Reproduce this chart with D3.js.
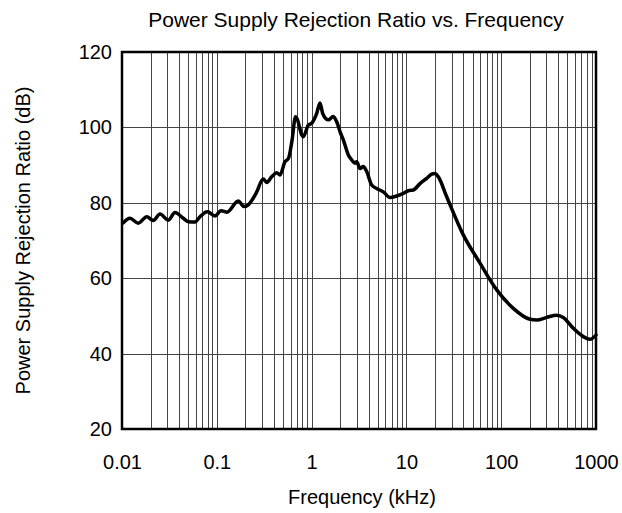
<!DOCTYPE html>
<html>
<head>
<meta charset="utf-8">
<script src="https://cdn.jsdelivr.net/npm/d3@7"></script>
<style>
  html, body { margin: 0; padding: 0; background: #fff; }
  text { font-family: Arial, "Liberation Sans", sans-serif; fill: #000; }
</style>
</head>
<body>
<svg id="chart" width="622" height="513"></svg>
<script>
const chartTitle = "Power Supply Rejection Ratio vs. Frequency";
const xLabel = "Frequency (kHz)";
const yLabel = "Power Supply Rejection Ratio (dB)";
const xTicks = [0.01, 0.1, 1, 10, 100, 1000];
const xTickLabels = ["0.01", "0.1", "1", "10", "100", "1000"];
const yTicks = [20, 40, 60, 80, 100, 120];

const freq = [0.01032, 0.01214, 0.01486, 0.01822, 0.02138, 0.02518, 0.03079, 0.03622, 0.04432, 0.05007,
  0.05888, 0.06649, 0.07977, 0.09572, 0.1107, 0.1281, 0.1685, 0.1936, 0.2133, 0.2592,
  0.3094, 0.3360, 0.3794, 0.4283, 0.4642, 0.5240, 0.5706, 0.6212, 0.6763, 0.7100,
  0.7863, 0.8172, 0.9231, 1.0025, 1.132, 1.226, 1.309, 1.501, 1.694, 1.840,
  1.993, 2.160, 2.439, 2.649, 2.870, 2.991, 3.239, 3.511, 3.813, 4.305,
  4.861, 5.705, 6.714, 7.903, 9.275, 10.47, 11.83, 13.92, 16.37, 18.49,
  20.03, 21.71, 26.61, 39.83, 59.75, 89.66, 134.2, 201.3, 236.8, 302,
  384.9, 451.9, 576.3, 734.5, 864.5, 1000];
const psrr = [74.7, 75.9, 74.6, 76.3, 75.3, 77.0, 75.4, 77.4, 75.9, 75.0,
  74.9, 76.3, 77.6, 76.5, 77.9, 77.5, 80.5, 79.0, 79.4, 82.5,
  86.3, 85.4, 86.9, 88.0, 87.4, 90.9, 91.8, 96.5, 102.8, 102.0,
  98.0, 97.5, 100.6, 101.1, 103.7, 106.5, 103.7, 102.0, 102.9, 101.5,
  98.9, 96.7, 92.7, 91.4, 90.5, 90.9, 89.1, 89.6, 88.3, 84.7,
  83.8, 82.9, 81.4, 81.8, 82.5, 83.2, 83.4, 85.1, 86.5, 87.6,
  87.8, 86.9, 81.6, 71.5, 64.0, 56.9, 52.0, 49.1, 48.9, 49.6,
  50.2, 49.6, 46.7, 44.5, 43.8, 44.9];

const svg = d3.select("#chart");
const m = { left: 122, right: 596, top: 52, bottom: 429 };

const x = d3.scaleLog().domain([0.01, 1000]).range([m.left, m.right]);
const y = d3.scaleLinear().domain([20, 120]).range([m.bottom, m.top]);

// minor + major vertical grid lines
const vLines = [];
for (let e = -2; e < 3; e++) {
  for (let k = 1; k <= 9; k++) vLines.push(k * Math.pow(10, e));
}
vLines.push(1000);

const grid = svg.append("g");
grid.selectAll("line.v").data(vLines).join("line")
  .attr("class", "v")
  .attr("x1", d => Math.round(x(d)) + 0.5).attr("x2", d => Math.round(x(d)) + 0.5)
  .attr("y1", m.top).attr("y2", m.bottom)
  .attr("stroke", "#444").attr("stroke-width", 1);
grid.selectAll("line.h").data(yTicks).join("line")
  .attr("class", "h")
  .attr("x1", m.left).attr("x2", m.right)
  .attr("y1", d => Math.round(y(d)) + 0.5).attr("y2", d => Math.round(y(d)) + 0.5)
  .attr("stroke", "#444").attr("stroke-width", 1);

// data line
const data = freq.map((f, i) => ({ f, v: psrr[i] }));
svg.append("path")
  .datum(data)
  .attr("fill", "none")
  .attr("stroke", "#000")
  .attr("stroke-width", 3.5)
  .attr("stroke-linejoin", "round")
  .attr("stroke-linecap", "round")
  .attr("d", d3.line().x(d => x(d.f)).y(d => y(d.v)).curve(d3.curveMonotoneX));

// frame
svg.append("rect")
  .attr("x", m.left).attr("y", m.top)
  .attr("width", m.right - m.left).attr("height", m.bottom - m.top)
  .attr("fill", "none").attr("stroke", "#000").attr("stroke-width", 2.5);

// axes labels via d3 axes (no domain / tick lines)
const xAxis = d3.axisBottom(x).tickValues(xTicks)
  .tickFormat((d, i) => xTickLabels[i]).tickSize(0).tickPadding(0);
const gx = svg.append("g").attr("transform", `translate(0,${m.bottom + 26})`).call(xAxis);
gx.select(".domain").remove();
gx.selectAll("text").attr("font-size", 20).attr("font-family", "Arial, 'Liberation Sans', sans-serif").attr("fill", "#000");

const yAxis = d3.axisLeft(y).tickValues(yTicks).tickSize(0).tickPadding(0);
const gy = svg.append("g").attr("transform", `translate(${m.left - 10},0)`).call(yAxis);
gy.select(".domain").remove();
gy.selectAll("text").attr("font-size", 20).attr("font-family", "Arial, 'Liberation Sans', sans-serif").attr("fill", "#000");

svg.append("text")
  .attr("x", 356).attr("y", 27)
  .attr("text-anchor", "middle")
  .attr("font-size", 21)
  .text(chartTitle);

svg.append("text")
  .attr("x", 362).attr("y", 504)
  .attr("text-anchor", "middle")
  .attr("font-size", 20)
  .text(xLabel);

svg.append("text")
  .attr("transform", `translate(30,${(m.top + m.bottom) / 2}) rotate(-90)`)
  .attr("text-anchor", "middle")
  .attr("font-size", 20)
  .text(yLabel);
</script>
</body>
</html>
